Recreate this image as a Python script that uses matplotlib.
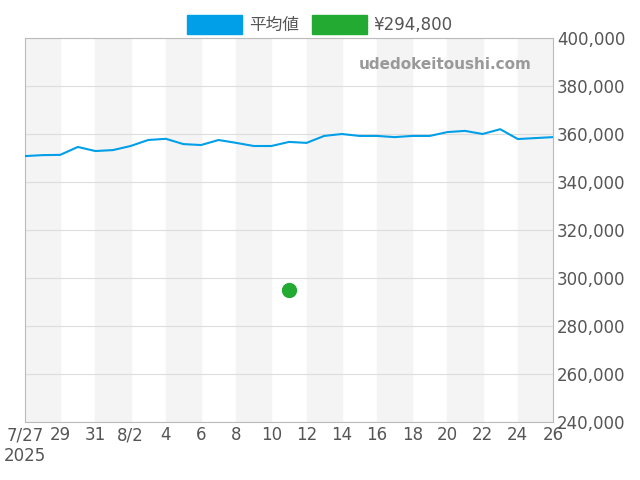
import matplotlib
matplotlib.use("Agg")
import matplotlib.pyplot as plt
import numpy as np

plt.rcParams['font.family'] = ['DejaVu Sans', 'Noto Sans CJK JP']

days = list(range(31))  # 2025-07-27 .. 2025-08-26
avg = [350800, 351200, 351300, 354600, 352900, 353300, 355000, 357500, 358000, 355800,
       355400, 357500, 356300, 355000, 355000, 356700, 356300, 359200, 360000, 359200,
       359200, 358700, 359200, 359200, 360800, 361300, 360000, 362000, 357900, 358300, 358700]
point_day = 15
point_val = 294800
tick_labels = ["7/27\n2025", "29", "31", "8/2", "4", "6", "8", "10", "12", "14", "16", "18", "20", "22", "24", "26"]
yticks = list(range(240000, 400001, 20000))

fig = plt.figure(figsize=(6.4, 4.8), dpi=100)
ax = fig.add_axes([25/640, 1-422/480, (553-25)/640, (422-38)/480])
for s in range(0, 30, 4):
    ax.axvspan(s, s+2, color='#f4f4f4', zorder=0)
ax.plot(days, avg, color='#009fe8', lw=1.5, zorder=3)
ax.scatter([point_day], [point_val], s=100, color='#22aa33', zorder=4)
ax.set_xlim(0, 30)
ax.set_ylim(240000, 400000)
ax.set_xticks(range(0, 31, 2))
ax.set_xticklabels(tick_labels, fontsize=12, color='#555555')
ax.set_yticks(yticks)
ax.set_yticklabels([f"{v:,}" for v in yticks], fontsize=12, color='#555555')
ax.yaxis.tick_right()
ax.tick_params(length=0, pad=3)
ax.grid(axis='y', color='#dddddd', lw=0.8)
for sp in ax.spines.values():
    sp.set_color('#bbbbbb')
ax.text(0.96, 0.93, 'udedokeitoushi.com', transform=ax.transAxes, ha='right', va='center',
        fontsize=11, color='#999999', fontweight='bold')
h1 = plt.Rectangle((0, 0), 1, 1, color='#009fe8')
h2 = plt.Rectangle((0, 0), 1, 1, color='#22aa33')
fig.legend([h1, h2], ['平均値', '¥294,800'], loc='upper center', bbox_to_anchor=(0.5, 1.0),
           ncol=2, frameon=False, fontsize=12, handlelength=3.3, handleheight=1.4,
           labelcolor='#555555', columnspacing=0.8, handletextpad=0.4)
fig.savefig('out.png')
